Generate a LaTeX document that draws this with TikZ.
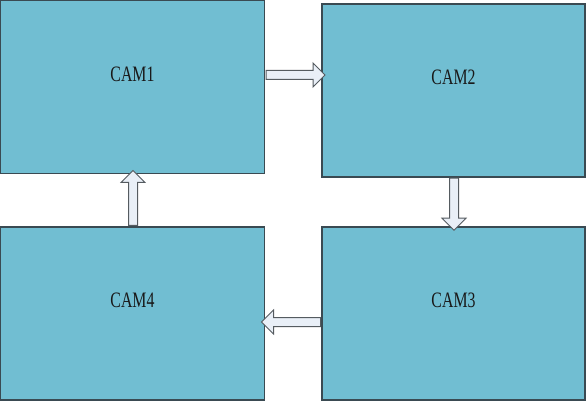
\documentclass[tikz,border=0pt]{standalone}
\usepackage{fontspec}
\usetikzlibrary{shapes.arrows,calc}
\newfontfamily\camfont[FakeStretch=0.72]{Liberation Serif}
\definecolor{camfill}{HTML}{71BED2}
\definecolor{camedge}{HTML}{3A4A52}
\definecolor{flowfill}{HTML}{E9EFF7}
\definecolor{flowedge}{HTML}{555B60}
\tikzset{
  cam/.style={draw=camedge, fill=camfill, line width=1.4pt, inner sep=0pt},
  camlabel/.style={yshift=13pt, font=\camfont\fontsize{22}{22}\selectfont, text=black!90},
  flow/.style={single arrow, draw=flowedge, fill=flowfill, line width=1pt,
    inner sep=0pt, inner ysep=4pt, single arrow head extend=7.5pt}
}
\begin{document}
\begin{tikzpicture}[x=1pt, y=-1pt]
	\useasboundingbox (0,0) rectangle (587,401);

	\node[cam, minimum width=264pt, minimum height=173pt, label={[camlabel]center:CAM1}] (cam1) at (132.5,87) {};
	\node[cam, minimum width=263pt, minimum height=173pt, label={[camlabel]center:CAM2}] (cam2) at (453.5,90.5) {};
	\node[cam, minimum width=263pt, minimum height=173pt, label={[camlabel]center:CAM3}] (cam3) at (453.5,313.5) {};
	\node[cam, minimum width=264pt, minimum height=173pt, label={[camlabel]center:CAM4}] (cam4) at (132.5,313.5) {};

	\node[flow, minimum height=59pt] (f12) at ($(cam1.east |- 0,75)!0.5!(cam2.west |- 0,75)$) {};
	\node[flow, minimum height=52pt, rotate=-90] (f23) at ($(cam2.south -| 454,0)!0.5!(cam3.north -| 454,0)$) {};
	\node[flow, minimum height=59pt, rotate=180] (f34) at ($(cam3.west |- 0,322)!0.5!(cam4.east |- 0,322)$) {};
	\node[flow, minimum height=55pt, rotate=90] (f41) at ($(cam4.north -| 133,0)!0.5!(cam1.south -| 133,0)$) {};
\end{tikzpicture}
\end{document}
